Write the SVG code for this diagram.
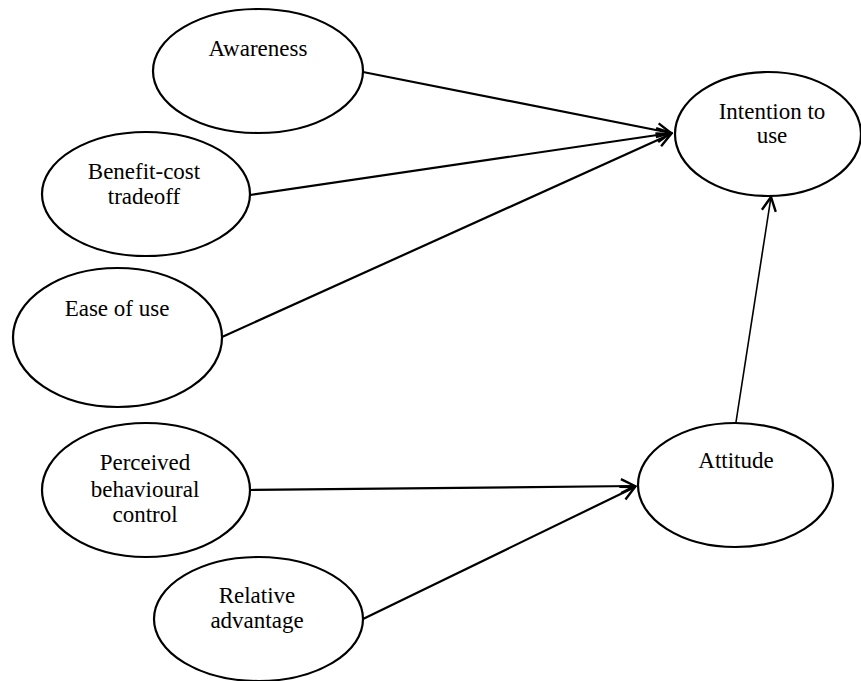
<svg xmlns="http://www.w3.org/2000/svg" width="861" height="681" viewBox="0 0 861 681">
<style>
.node ellipse{fill:#fff;stroke:#000;stroke-width:2.2}
.node text{font-family:"Liberation Serif","Times New Roman",serif;font-size:23px;fill:#000;text-anchor:middle}
.edge{stroke:#000;stroke-width:2.2;fill:none;marker-end:url(#arr)}
.thin{stroke-width:1.6}
</style>
<defs>
<marker id="arr" markerUnits="userSpaceOnUse" markerWidth="18" markerHeight="18" viewBox="0 0 18 18" refX="16" refY="9" orient="auto">
<path d="M2,2 L16,9 L2,16" fill="none" stroke="#000" stroke-width="2.4" stroke-linejoin="miter"/>
</marker>
</defs>
<rect width="861" height="681" fill="#fff"/>
<g id="connectors">
<line class="edge" x1="363" y1="72" x2="671" y2="133"/>
<line class="edge" x1="250" y1="195" x2="671" y2="133"/>
<line class="edge" x1="222" y1="337" x2="671" y2="134"/>
<line class="edge thin" x1="736" y1="422" x2="771" y2="197"/>
<line class="edge" x1="250" y1="490" x2="635" y2="486"/>
<line class="edge" x1="363" y1="619" x2="635" y2="487"/>
</g>
<g id="awareness" class="node">
<ellipse cx="258" cy="71" rx="105" ry="62"/>
<text x="258" y="56">Awareness</text>
</g>
<g id="benefit-cost" class="node">
<ellipse cx="146" cy="194" rx="104" ry="62"/>
<text x="144" y="179">Benefit-cost</text>
<text x="144" y="204">tradeoff</text>
</g>
<g id="ease-of-use" class="node">
<ellipse cx="117.5" cy="337.5" rx="104.5" ry="69.5"/>
<text x="117" y="316">Ease of use</text>
</g>
<g id="perceived" class="node">
<ellipse cx="146" cy="490" rx="104" ry="67"/>
<text x="145" y="470">Perceived</text>
<text x="145" y="497">behavioural</text>
<text x="145" y="522">control</text>
</g>
<g id="relative-advantage" class="node">
<ellipse cx="258.5" cy="619" rx="104.5" ry="62"/>
<text x="257" y="603">Relative</text>
<text x="257" y="628">advantage</text>
</g>
<g id="intention" class="node">
<ellipse cx="768" cy="134" rx="93" ry="62"/>
<text x="772" y="119">Intention to</text>
<text x="772" y="143">use</text>
</g>
<g id="attitude" class="node">
<ellipse cx="735.5" cy="485" rx="97.5" ry="62"/>
<text x="736" y="468">Attitude</text>
</g>
</svg>
